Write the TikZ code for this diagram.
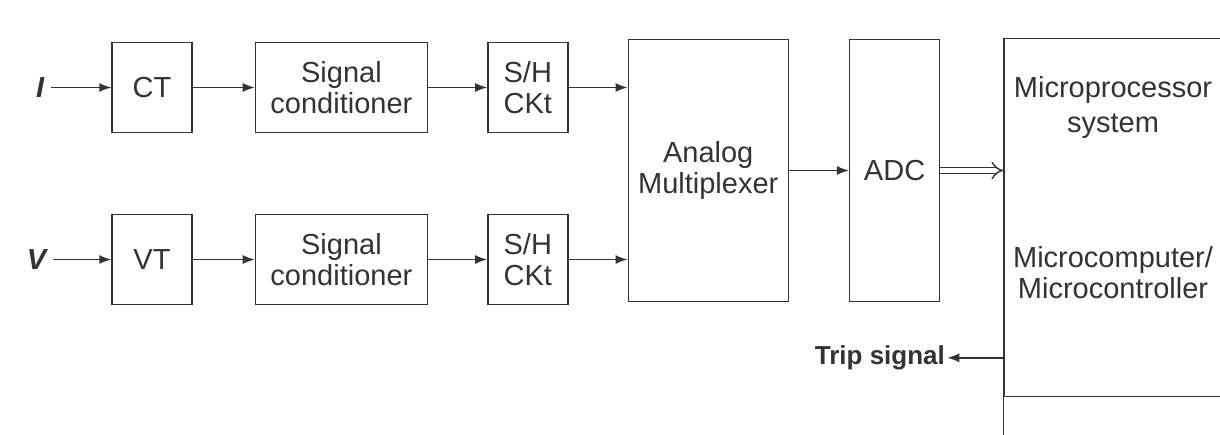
\documentclass[tikz,border=0pt]{standalone}
\usepackage{fontspec}
\setmainfont{Liberation Sans}
\usetikzlibrary{arrows.meta,positioning}

\begin{document}
\begin{tikzpicture}[
  font=\fontsize{14.5}{15.5}\selectfont,
  node distance=29.5pt,
  every node/.style={text=black!80},
  box/.style={
    draw=black!80,
    line width=0.7pt,
    align=center,
    minimum height=45pt,
    inner sep=2pt
  },
  tall/.style={box, minimum height=131pt},
  inlabel/.style={font=\fontsize{14.5}{15.5}\selectfont\bfseries\itshape},
  trip/.style={font=\fontsize{13}{15}\selectfont\bfseries, inner sep=1pt},
  inner/.style={align=center, inner sep=0pt},
  flow/.style={-{Latex[length=6pt,width=4.5pt]}, line width=0.7pt, draw=black!80},
  dflow/.style={-{Implies}, double=white, double distance=2.4pt, line width=0.7pt, draw=black!80}
]
\useasboundingbox (0,0) rectangle (610pt,-217pt);

% Row I
\node[box, minimum width=40pt] (ct) at (76pt,-43.75pt) {CT};
\node[box, minimum width=86pt, right=31pt of ct] (sigI) {Signal\\conditioner};
\node[box, minimum width=40pt, right=of sigI] (shI) {S/H\\CKt};
\node[inlabel, left=30pt of ct] (iin) {I};

% Row V
\node[box, minimum width=40pt] (vt) at (76pt,-129.75pt) {VT};
\node[box, minimum width=86pt, right=31pt of vt] (sigV) {Signal\\conditioner};
\node[box, minimum width=40pt, right=of sigV] (shV) {S/H\\CKt};
\node[inlabel, left=29pt of vt] (vin) {V};

% Multiplexer, ADC, processor
\node[tall, minimum width=80pt, below right=-1.5pt and 29.5pt of shI.north east] (mux) {Analog\\Multiplexer};
\node[tall, minimum width=45pt, right=30pt of mux] (adc) {ADC};
\node[box, minimum width=109pt, minimum height=179pt, below right=-0.5pt and 31.5pt of adc.north east] (micro) {};
\node[inner, font=\fontsize{14.5}{17.5}\selectfont] (mpsys) at ([yshift=-35pt]micro.north) {Microprocessor\\system};
\node[inner] (mcctl) at ([yshift=-117.5pt]micro.north) {Microcomputer/\\Microcontroller};
\node[trip, anchor=east] (trip) at ([xshift=-28pt,yshift=-160pt]micro.north west) {Trip signal};
\draw[line width=0.7pt, draw=black!80] (micro.south west) -- ++(0,-20pt);

\draw[flow] (iin) -- (ct);
\draw[flow] (ct) -- (sigI);
\draw[flow] (sigI) -- (shI);
\draw[flow] (shI) -- (mux.west |- shI);
\draw[flow] (vin) -- (vt);
\draw[flow] (vt) -- (sigV);
\draw[flow] (sigV) -- (shV);
\draw[flow] (shV) -- (mux.west |- shV);
\draw[flow] (mux) -- (adc);
\draw[dflow] (adc) -- (micro.west |- adc);
\draw[flow] (trip.east -| micro.west) -- (trip.east);

\end{tikzpicture}
\end{document}
